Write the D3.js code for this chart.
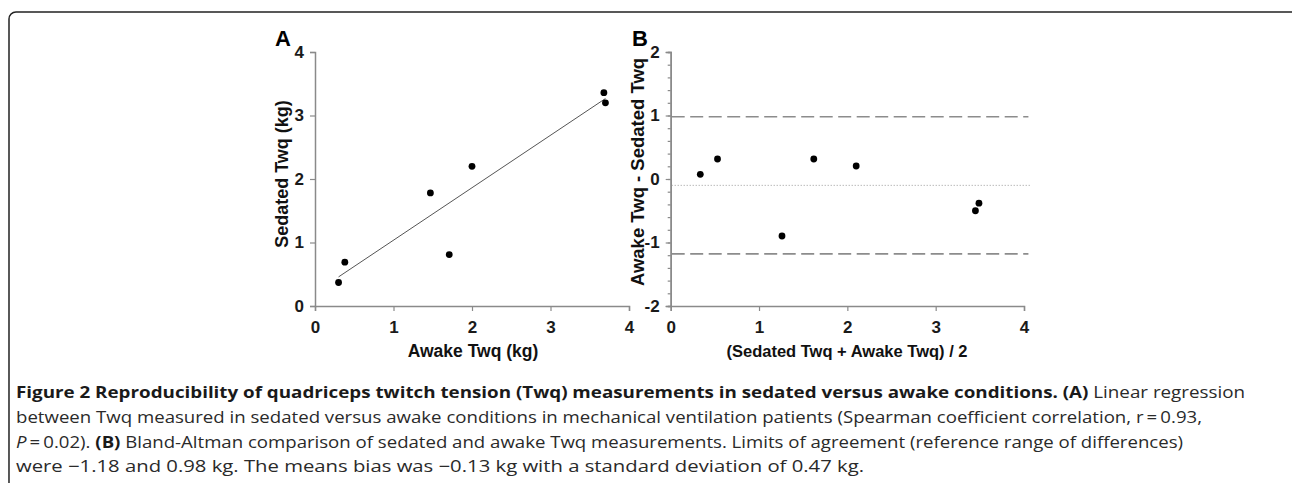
<!DOCTYPE html>
<html>
<head>
<meta charset="utf-8">
<script src="https://cdn.jsdelivr.net/npm/d3@7"></script>
<style>
  body { margin: 0; background: #fff; }
  svg { display: block; }
  .axis text { font-family: Arial, 'Liberation Sans', sans-serif; font-weight: bold; font-size: 17px; fill: #1a1a1a; }
</style>
</head>
<body>
<div id="viz"></div>
<script>
// panel A: awake vs sedated
var awakeA   = [0.30, 0.38, 1.47, 1.71, 2.00, 3.68, 3.70];
var sedatedA = [0.37, 0.69, 1.78, 0.81, 2.20, 3.36, 3.20];
// panel B: Bland-Altman
var meanB = [0.335, 0.53, 1.26, 1.62, 2.10, 3.45, 3.49];
var diffB = [0.074, 0.315, -0.898, 0.315, 0.205, -0.50, -0.38];
var limitsB = [0.98, -1.18];
var biasB = -0.10;

var ticksA_x = [0, 1, 2, 3, 4];
var ticksA_y = [0, 1, 2, 3, 4];
var ticksB_x = [0, 1, 2, 3, 4];
var ticksB_y = [-2, -1, 0, 1, 2];
var minorB_y = d3.range(-2, 2.01, 0.2);

var captionLines = [
  [["b", "Figure 2 Reproducibility of quadriceps twitch tension (Twq) measurements in sedated versus awake conditions. "], ["b", "(A)"], ["n", " Linear regression"]],
  [["n", "between Twq measured in sedated versus awake conditions in mechanical ventilation patients (Spearman coefficient correlation, r\u2009=\u20090.93,"]],
  [["i", "P"], ["n", "\u2009=\u20090.02). "], ["b", "(B)"], ["n", " Bland-Altman comparison of sedated and awake Twq measurements. Limits of agreement (reference range of differences)"]],
  [["n", "were \u22121.18 and 0.98 kg. The means bias was \u22120.13 kg with a standard deviation of 0.47 kg."]]
];
var captionEnds = [1245, 1202, 1183, 864];

var width = 1292, height = 483;
var axisColor = "#8a8a8a";
var labelFont = "Arial, 'Liberation Sans', sans-serif";
var fmt = function(d){ return String(d); };   // plain hyphen minus like the original

var svg = d3.select("#viz").append("svg")
  .attr("width", width)
  .attr("height", height);

// frame
svg.append("rect")
  .attr("x", 9).attr("y", 12)
  .attr("width", 1300).attr("height", 520)
  .attr("rx", 7)
  .attr("fill", "none")
  .attr("stroke", "#222")
  .attr("stroke-width", 1.5);

function styleAxis(g) {
  g.attr("class", "axis").attr("font-size", null).attr("font-family", null);
  g.select(".domain").attr("stroke", axisColor).attr("stroke-width", 1.5);
  g.selectAll(".tick line").attr("stroke", axisColor).attr("stroke-width", 1.2);
}

/* ---------- panel A ---------- */
var xA = d3.scaleLinear().domain([0, 4]).range([315, 629]);
var yA = d3.scaleLinear().domain([0, 4]).range([306, 52]);

var gxA = svg.append("g")
  .attr("transform", "translate(0," + yA(0) + ")")
  .call(d3.axisBottom(xA).tickValues(ticksA_x).tickFormat(fmt).tickSizeOuter(0).tickSize(5).tickPadding(10));
styleAxis(gxA);

var gyA = svg.append("g")
  .attr("transform", "translate(" + xA(0) + ",0)")
  .call(d3.axisLeft(yA).tickValues(ticksA_y).tickFormat(fmt).tickSizeOuter(0).tickSize(5).tickPadding(6));
styleAxis(gyA);

// regression line
var mx = d3.mean(awakeA), my = d3.mean(sedatedA);
var sxy = d3.sum(awakeA, function(d, i){ return (d - mx) * (sedatedA[i] - my); });
var sxx = d3.sum(awakeA, function(d){ return (d - mx) * (d - mx); });
var slope = sxy / sxx, icpt = my - slope * mx;
var xr = d3.extent(awakeA);
svg.append("line")
  .attr("x1", xA(xr[0])).attr("y1", yA(icpt + slope * xr[0]))
  .attr("x2", xA(xr[1])).attr("y2", yA(icpt + slope * xr[1]))
  .attr("stroke", "#555")
  .attr("stroke-width", 1);

svg.selectAll(".dotA")
  .data(awakeA)
  .enter().append("circle")
  .attr("class", "dotA")
  .attr("cx", function(d){ return xA(d); })
  .attr("cy", function(d, i){ return yA(sedatedA[i]); })
  .attr("r", 3.4)
  .attr("fill", "#000");

svg.append("text")
  .attr("x", 283).attr("y", 46)
  .attr("text-anchor", "middle")
  .attr("font-family", labelFont).attr("font-weight", "bold").attr("font-size", 22)
  .text("A");

svg.append("text")
  .attr("transform", "translate(288,174)rotate(-90)")
  .attr("text-anchor", "middle")
  .attr("font-family", labelFont).attr("font-weight", "bold").attr("font-size", 18)
  .attr("fill", "#111")
  .text("Sedated Twq (kg)");

svg.append("text")
  .attr("x", 473).attr("y", 357)
  .attr("text-anchor", "middle")
  .attr("font-family", labelFont).attr("font-weight", "bold").attr("font-size", 17.5)
  .attr("fill", "#111")
  .text("Awake Twq (kg)");

/* ---------- panel B ---------- */
var xB = d3.scaleLinear().domain([0, 4]).range([670.7, 1024]);
var yB = d3.scaleLinear().domain([-2, 2]).range([306, 52]);

var gxB = svg.append("g")
  .attr("transform", "translate(0," + yB(-2) + ")")
  .call(d3.axisBottom(xB).tickValues(ticksB_x).tickFormat(fmt).tickSizeOuter(0).tickSize(5).tickPadding(10));
styleAxis(gxB);

var gyBminor = svg.append("g")
  .attr("transform", "translate(" + xB(0) + ",0)")
  .call(d3.axisLeft(yB).tickValues(minorB_y).tickFormat("").tickSizeOuter(0).tickSize(3));
styleAxis(gyBminor);

var gyB = svg.append("g")
  .attr("transform", "translate(" + xB(0) + ",0)")
  .call(d3.axisLeft(yB).tickValues(ticksB_y).tickFormat(fmt).tickSizeOuter(0).tickSize(5).tickPadding(6));
styleAxis(gyB);

svg.selectAll(".limit")
  .data(limitsB)
  .enter().append("line")
  .attr("class", "limit")
  .attr("x1", xB(0) + 1).attr("x2", xB(4.05))
  .attr("y1", function(d){ return yB(d); })
  .attr("y2", function(d){ return yB(d); })
  .attr("stroke", "#8c8c8c")
  .attr("stroke-width", 1.7)
  .attr("stroke-dasharray", "13,5.5");

svg.append("line")
  .attr("x1", xB(0) + 1).attr("x2", xB(4.07))
  .attr("y1", yB(biasB)).attr("y2", yB(biasB))
  .attr("stroke", "#9a9a9a")
  .attr("stroke-width", 1)
  .attr("stroke-dasharray", "1,2");

svg.selectAll(".dotB")
  .data(meanB)
  .enter().append("circle")
  .attr("class", "dotB")
  .attr("cx", function(d){ return xB(d); })
  .attr("cy", function(d, i){ return yB(diffB[i]); })
  .attr("r", 3.4)
  .attr("fill", "#000");

svg.append("text")
  .attr("x", 640).attr("y", 46)
  .attr("text-anchor", "middle")
  .attr("font-family", labelFont).attr("font-weight", "bold").attr("font-size", 22)
  .text("B");

svg.append("text")
  .attr("transform", "translate(644,172)rotate(-90)")
  .attr("text-anchor", "middle")
  .attr("font-family", labelFont).attr("font-weight", "bold").attr("font-size", 18.5)
  .attr("fill", "#111")
  .text("Awake Twq - Sedated Twq");

svg.append("text")
  .attr("x", 847).attr("y", 357)
  .attr("text-anchor", "middle")
  .attr("font-family", labelFont).attr("font-weight", "bold").attr("font-size", 16.5)
  .attr("fill", "#111")
  .text("(Sedated Twq + Awake Twq) / 2");

/* ---------- caption ---------- */
var captionY = [398, 422.5, 447.5, 472];
captionLines.forEach(function(parts, li) {
  var t = svg.append("text")
    .attr("x", 16).attr("y", captionY[li])
    .attr("font-family", "'Open Sans', 'Noto Sans', sans-serif")
    .attr("font-size", 16.5)
    .attr("fill", "#2a2a2a")
    .attr("textLength", captionEnds[li] - 16)
    .attr("lengthAdjust", "spacingAndGlyphs");
  parts.forEach(function(p) {
    t.append("tspan")
      .attr("font-weight", p[0] == "b" ? "bold" : "normal")
      .attr("font-style", p[0] == "i" ? "italic" : "normal")
      .attr("fill", p[0] == "b" ? "#1a1a1a" : "#2a2a2a")
      .text(p[1]);
  });
});
</script>
</body>
</html>
